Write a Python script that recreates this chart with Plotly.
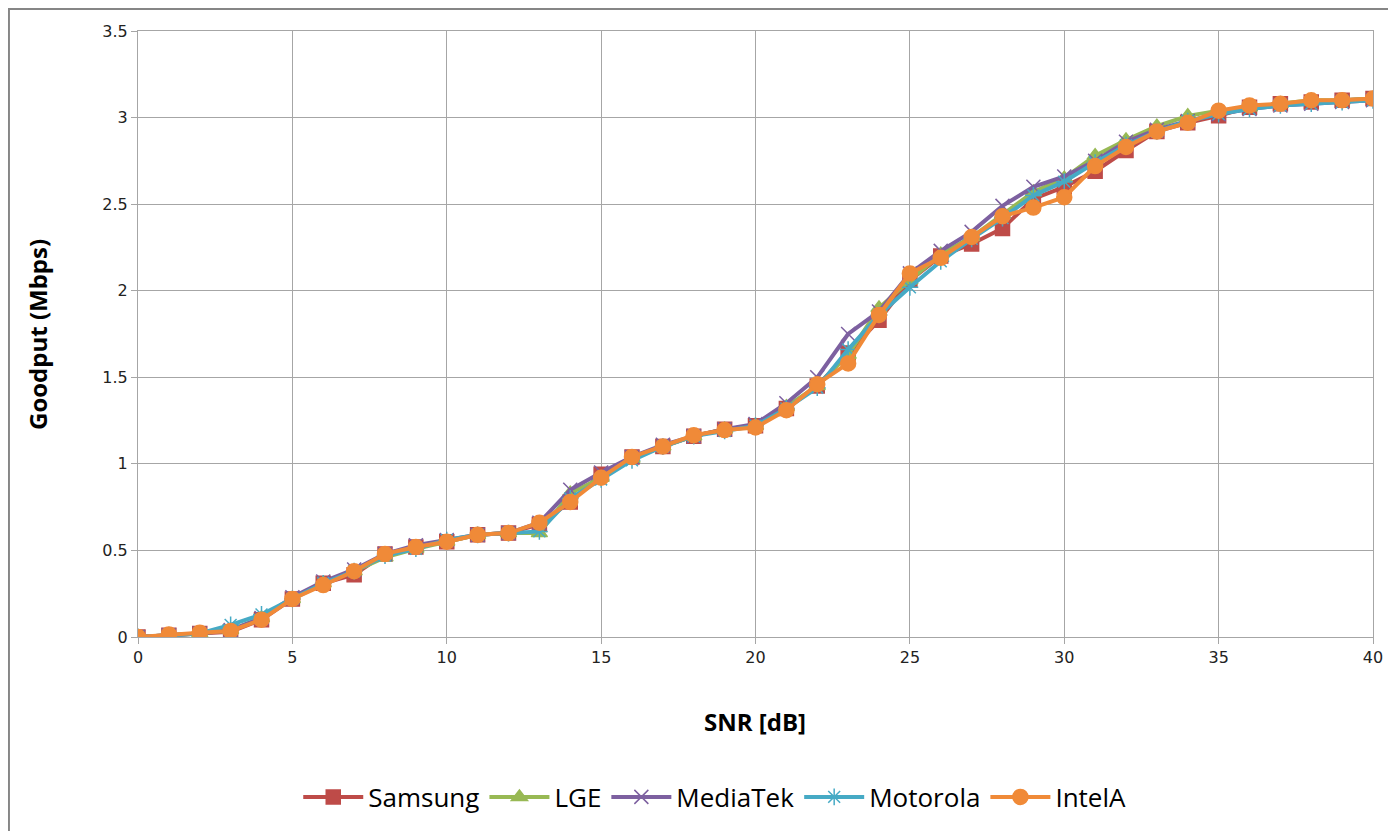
import plotly.graph_objects as go

snr = list(range(0, 41))

samsung = [0, 0.01, 0.02, 0.03, 0.10, 0.22, 0.31, 0.36, 0.48, 0.52, 0.55, 0.59, 0.60, 0.65, 0.78,
           0.94, 1.04, 1.10, 1.16, 1.20, 1.22, 1.32, 1.45, 1.64, 1.83, 2.06, 2.20, 2.27, 2.36, 2.53,
           2.60, 2.69, 2.81, 2.92, 2.97, 3.01, 3.06, 3.08, 3.09, 3.10, 3.11]
lge = [0, 0.01, 0.02, 0.04, 0.11, 0.22, 0.31, 0.38, 0.46, 0.51, 0.55, 0.59, 0.60, 0.60, 0.83,
       0.92, 1.03, 1.10, 1.16, 1.20, 1.22, 1.33, 1.45, 1.63, 1.90, 2.06, 2.21, 2.31, 2.44, 2.57,
       2.65, 2.78, 2.87, 2.95, 3.01, 3.04, 3.06, 3.08, 3.10, 3.10, 3.11]
mediatek = [0, 0.01, 0.02, 0.04, 0.11, 0.23, 0.32, 0.39, 0.48, 0.53, 0.56, 0.59, 0.60, 0.66, 0.85,
            0.95, 1.04, 1.11, 1.16, 1.20, 1.23, 1.35, 1.50, 1.75, 1.88, 2.10, 2.23, 2.34, 2.49, 2.60,
            2.66, 2.75, 2.86, 2.93, 2.98, 3.02, 3.05, 3.07, 3.08, 3.09, 3.10]
motorola = [0, 0.01, 0.02, 0.07, 0.13, 0.22, 0.31, 0.38, 0.47, 0.51, 0.56, 0.59, 0.60, 0.61, 0.80,
            0.91, 1.02, 1.10, 1.16, 1.19, 1.22, 1.32, 1.44, 1.66, 1.86, 2.02, 2.17, 2.30, 2.42, 2.55,
            2.63, 2.74, 2.84, 2.92, 2.98, 3.02, 3.05, 3.07, 3.08, 3.09, 3.10]
intela = [0, 0.015, 0.025, 0.035, 0.10, 0.22, 0.30, 0.38, 0.48, 0.52, 0.55, 0.59, 0.60, 0.66, 0.78,
          0.92, 1.04, 1.10, 1.165, 1.195, 1.21, 1.31, 1.46, 1.58, 1.86, 2.10, 2.19, 2.31, 2.43, 2.48,
          2.54, 2.72, 2.83, 2.92, 2.97, 3.04, 3.07, 3.08, 3.10, 3.10, 3.11]

series = [
    ("Samsung", samsung, "#BE4B48", "square", 14),
    ("LGE", lge, "#98B954", "triangle-up", 14),
    ("MediaTek", mediatek, "#7D60A0", "x-thin-open", 14),
    ("Motorola", motorola, "#46AAC5", "asterisk-open", 14),
    ("IntelA", intela, "#F08A38", "circle", 15),
]

fig = go.Figure()
for name, vals, col, sym, size in series:
    fig.add_trace(go.Scatter(
        x=snr, y=vals, name=name, mode="lines+markers",
        line=dict(color=col, width=4),
        marker=dict(symbol=sym, size=size, color=col, line=dict(color=col, width=1.5)),
    ))

fig.update_layout(
    width=1396, height=831,
    margin=dict(l=130, r=31, t=23, b=202),
    paper_bgcolor="white", plot_bgcolor="white",
    font=dict(family="DejaVu Sans", color="#222222"),
    showlegend=True,
    legend=dict(orientation="h", x=0.467, xanchor="center", y=-0.264, yanchor="middle",
                font=dict(family="Open Sans", size=26, color="#000000"),
                itemwidth=60, tracegroupgap=0, bgcolor="rgba(0,0,0,0)"),
    xaxis=dict(range=[0, 40], tickmode="linear", tick0=0, dtick=5,
               showgrid=True, gridcolor="#A6A6A6", gridwidth=1,
               showline=True, linecolor="#A6A6A6", linewidth=1, mirror=True,
               ticks="outside", ticklen=6, tickcolor="#A6A6A6",
               tickfont=dict(size=16, color="#222222"), zeroline=False),
    yaxis=dict(range=[0, 3.5], tickmode="linear", tick0=0, dtick=0.5,
               showgrid=True, gridcolor="#A6A6A6", gridwidth=1,
               showline=True, linecolor="#A6A6A6", linewidth=1, mirror=True,
               ticks="outside", ticklen=6, tickcolor="#A6A6A6",
               tickfont=dict(size=16, color="#222222"), zeroline=False),
    annotations=[
        dict(text="<b>SNR [dB]</b>", xref="paper", yref="paper", x=0.4996, y=-0.140,
             xanchor="center", yanchor="middle", showarrow=False,
             font=dict(family="Open Sans", size=24, color="#000000")),
        dict(text="<b>Goodput (Mbps)</b>", xref="paper", yref="paper", x=-0.0818, y=0.50,
             xanchor="center", yanchor="middle", textangle=-90, showarrow=False,
             font=dict(family="Open Sans", size=24, color="#000000")),
    ],
    shapes=[
        dict(type="rect", xref="paper", yref="paper", x0=-0.1045, x1=1.04, y0=-0.35, y1=1.0365,
             line=dict(color="#868686", width=2), fillcolor="rgba(0,0,0,0)", layer="below"),
    ],
)

fig.write_html("out.html")
